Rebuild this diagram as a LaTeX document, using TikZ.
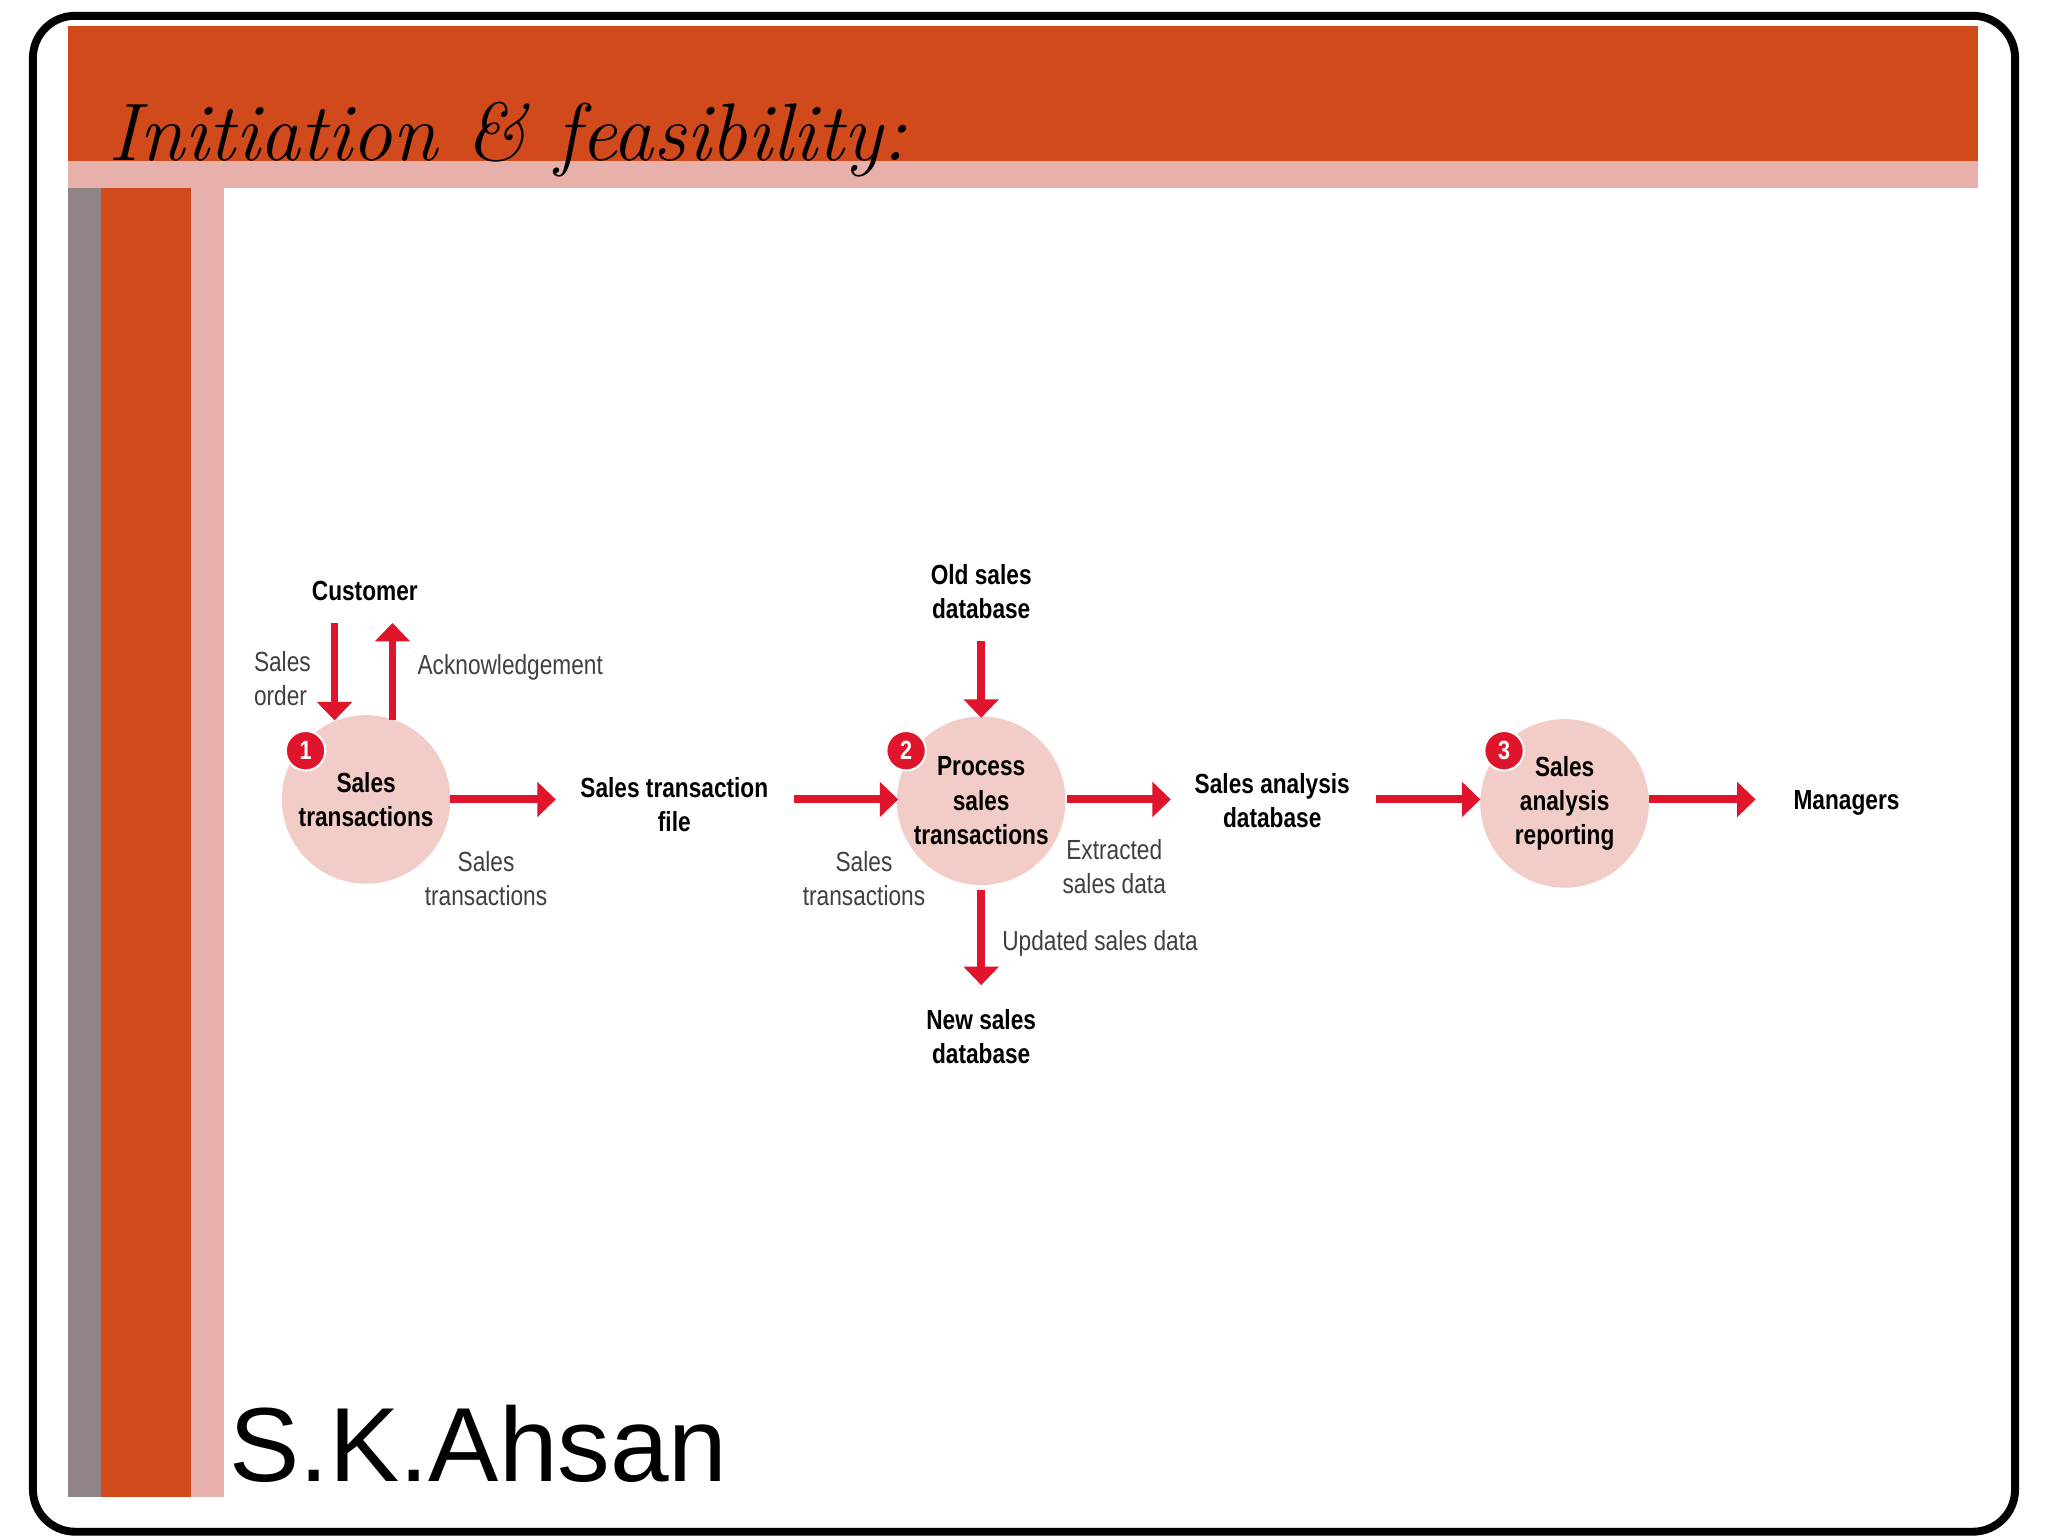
\documentclass[tikz,border=0pt]{standalone}
\usepackage{fontspec}
\setmainfont{Liberation Sans}
\newfontfamily\cond[FakeStretch=0.82]{Liberation Sans}
\newfontfamily\titlef{Latin Modern Roman}
\usetikzlibrary{arrows.meta}
\definecolor{band}{HTML}{D04A1C}
\definecolor{pinkb}{HTML}{E8B0AA}
\definecolor{grayb}{HTML}{8E8486}
\definecolor{circ}{HTML}{F2CDC8}
\definecolor{arr}{HTML}{E0142A}
\tikzset{
 flow/.style={draw=arr,line width=3pt,-{Triangle[length=7pt,width=13pt]}},
 proc/.style={circle,fill=circ,minimum size=64pt,inner sep=0pt,align=center,font=\cond\bfseries\fontsize{10.5}{13}\selectfont},
 badge/.style={circle,fill=arr,draw=white,line width=0.8pt,minimum size=15pt,inner sep=0pt,text=white,font=\cond\bfseries\fontsize{10}{10}\selectfont},
 bl/.style={align=center,font=\cond\bfseries\fontsize{10.5}{13}\selectfont},
 lt/.style={align=center,font=\cond\fontsize{10.5}{13}\selectfont,text=black!75}
}
\begin{document}
\begin{tikzpicture}[x=0.5pt,y=-0.5pt]
\useasboundingbox (0,0) rectangle (1555,1166);
\fill[white] (0,0) rectangle (1555,1166);
\fill[band] (52,20) rectangle (1502,122);
\fill[pinkb] (52,122) rectangle (1502,143);
\fill[grayb] (52,143) rectangle (77,1137);
\fill[band] (77,143) rectangle (145,1137);
\fill[pinkb] (145,143) rectangle (170,1137);
\draw[line width=3pt,rounded corners=16pt] (25,12) rectangle (1530,1163);
\node[anchor=base west,inner sep=0pt,font=\titlef\itshape\fontsize{31}{31}\selectfont] (title) at (82,122) {Initiation \& feasibility:};
\node[anchor=base west,inner sep=0pt,font=\fontsize{40}{40}\selectfont] (auth) at (174,1125) {S.K.Ahsan};
% processes
\node[proc] (p1) at (278,607) {Sales\\transactions};
\node[proc] (p2) at (745,608) {Process\\sales\\transactions};
\node[proc] (p3) at (1188,610) {Sales\\analysis\\reporting};
\node[badge] (b1) at (232,570) {1};
\node[badge] (b2) at (688,570) {2};
\node[badge] (b3) at (1142,570) {3};
% entities
\node[bl] (cust) at (277,449) {Customer};
\node[bl] (stf) at (512,611) {Sales transaction\\file};
\node[bl] (old) at (745,449) {Old sales\\database};
\node[bl] (new) at (745,787) {New sales\\database};
\node[bl] (sad) at (966,608) {Sales analysis\\database};
\node[bl] (mgr) at (1402,610) {Managers};
% labels
\node[lt,align=left,anchor=east] (lso) at (243,515) {Sales\\order};
\node[lt,anchor=west] (lack) at (310,507) {Acknowledgement};
\node[lt] (lst1) at (369,667) {Sales\\transactions};
\node[lt] (lst2) at (656,667) {Sales\\transactions};
\node[lt] (lext) at (846,658) {Extracted\\sales data};
\node[lt,anchor=west] (lupd) at (754,716) {Updated sales data};
% arrows
\coordinate (a1s) at (254,473); \coordinate (a1e) at (254,547);
\coordinate (a2s) at (298,547); \coordinate (a2e) at (298,473);
\coordinate (a3s) at (342,607); \coordinate (a3e) at (422,607);
\coordinate (a4s) at (603,607); \coordinate (a4e) at (682,607);
\coordinate (a5s) at (745,487); \coordinate (a5e) at (745,545);
\coordinate (a6s) at (810,607); \coordinate (a6e) at (889,607);
\coordinate (a7s) at (745,676); \coordinate (a7e) at (745,748);
\coordinate (a8s) at (1045,607); \coordinate (a8e) at (1124,607);
\coordinate (a9s) at (1252,607); \coordinate (a9e) at (1333,607);
\foreach \i in {1,...,9} {\draw[flow] (a\i s) -- (a\i e);}
\end{tikzpicture}
\end{document}
